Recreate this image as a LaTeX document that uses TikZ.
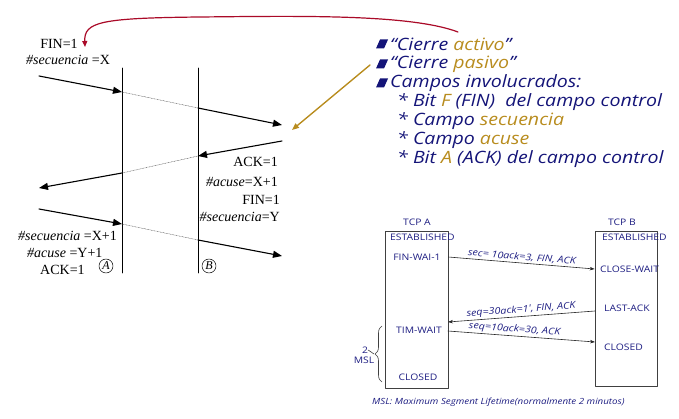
\documentclass[tikz,border=0pt]{standalone}
\usepackage{fontspec}
\setmainfont{Liberation Serif}
\newfontfamily\listfont[FakeStretch=1.15]{Open Sans}
\usetikzlibrary{arrows.meta}
\usetikzlibrary{decorations.pathreplacing}
\definecolor{navy}{RGB}{20,20,120}
\definecolor{gold}{RGB}{184,140,30}
\definecolor{darkred}{RGB}{170,10,40}
\definecolor{tcpblue}{RGB}{30,30,130}
\newcommand{\secu}{\textit{\#secuencia}}
\newcommand{\acu}{\textit{\#acuse}}

\begin{document}
\begin{tikzpicture}[line cap=round,line join=round,x=1pt,y=-1pt,
  msg/.style={line width=1.1pt,-{Triangle[length=9pt,width=7pt]}},
  tline/.style={line width=0.8pt},
  lost/.style={densely dotted,line width=0.5pt,gray!70!black},
  lbl/.style={font=\fontsize{14}{14}\selectfont,inner sep=0pt},
  lst/.style={font=\listfont\itshape\fontsize{17}{17}\selectfont,text=navy,inner sep=0pt,anchor=west},
  tcp/.style={font=\listfont\fontsize{9}{9}\selectfont,text=tcpblue,inner sep=0pt},
  tcpbox/.style={draw=gray!50!black,line width=0.7pt,inner sep=0pt},
  tcpmsg/.style={gray!30!black,line width=0.6pt,-{Stealth[length=5pt,width=3.5pt]}},
  tcplbl/.style={font=\listfont\itshape\fontsize{9.3}{9.3}\selectfont,text=tcpblue,inner sep=1.5pt,sloped,above}]
\useasboundingbox (0,0) rectangle (679,419);

%% left: the two lines and the segments
\draw[tline] (122,68) coordinate (Atop) -- (122,273) coordinate (Abot);
\draw[tline] (198,68) coordinate (Btop) -- (198,273) coordinate (Bbot);
\coordinate (s1) at (39,76);  \coordinate (a1) at (122,92);  \coordinate (b1) at (198,108); \coordinate (e1) at (282,125);
\coordinate (s2) at (282,141); \coordinate (b2) at (198,156); \coordinate (a2) at (122,173); \coordinate (e2) at (39,188);
\coordinate (s3) at (39,209);  \coordinate (a3) at (122,224); \coordinate (b3) at (198,240); \coordinate (e3) at (282,256);
\draw[msg] (s1) -- (a1); \draw[lost] (a1) -- (b1); \draw[msg] (b1) -- (e1);
\draw[msg] (s2) -- (b2); \draw[lost] (b2) -- (a2); \draw[msg] (a2) -- (e2);
\draw[msg] (s3) -- (a3); \draw[lost] (a3) -- (b3); \draw[msg] (b3) -- (e3);

\node[lbl] (fin1) at (59,44) {FIN=1};
\node[lbl,anchor=west] (seqx) at (26,60) {\secu\ =X};
\node[lbl,anchor=east] (ack1) at (278,162) {ACK=1};
\node[lbl,anchor=east] (acux) at (278,182) {\acu=X+1};
\node[lbl,anchor=east] (fin2) at (280,200) {FIN=1};
\node[lbl,anchor=east] (seqy) at (280,217) {\secu=Y};
\node[lbl,anchor=west] (seqx1) at (18,236) {\secu\ =X+1};
\node[lbl,anchor=west] (acuy) at (27,253) {\acu\ =Y+1};
\node[lbl,anchor=west] (ack2) at (40,270) {ACK=1};
\node[draw,circle,line width=0.5pt,inner sep=0pt,minimum size=14pt,font=\itshape\fontsize{12}{12}\selectfont] (cA) at (106,266) {A};
\node[draw,circle,line width=0.5pt,inner sep=0pt,minimum size=14pt,font=\itshape\fontsize{12}{12}\selectfont] (cB) at (209,266) {B};

%% right: list
\foreach \yy in {44,64,83}
  \fill[navy] (376,\yy+4.5) -- (384,\yy+4.5) -- (388,\yy-4.5) -- (380,\yy-4.5) -- cycle;
\node[lst] (l1) at (390,44) {“Cierre \textcolor{gold}{activo}”};
\node[lst] (l2) at (390,64) {“Cierre \textcolor{gold}{pasivo}”};
\node[lst] (l3) at (390,83) {Campos involucrados:};
\node[lst] (l4) at (397,102) {* Bit \textcolor{gold}{F} (FIN)\ \ del campo control};
\node[lst] (l5) at (397,121) {* Campo \textcolor{gold}{secuencia}};
\node[lst] (l6) at (397,140) {* Campo \textcolor{gold}{acuse}};
\node[lst] (l7) at (397,159) {* Bit \textcolor{gold}{A} (ACK) del campo control};

\coordinate (actsrc) at (458,32);
\coordinate (fintip) at (85,47);
\draw[darkred,line width=1.2pt,-{Triangle[length=6pt,width=5pt]}] (actsrc) .. controls (410,14) and (300,16) .. (200,17)
  .. controls (100,18) and (84,22) .. (fintip);
\coordinate (passrc) at (370,65);
\coordinate (pastip) at (292,130);
\draw[gold,line width=1.4pt,-{Triangle[length=7pt,width=5.5pt]}] (passrc) -- (pastip);

%% bottom right: TCP A / TCP B
\node[tcp] (tcpA) at (417,222) {TCP A};
\node[tcp] (tcpB) at (622,222) {TCP B};
\node[tcpbox,minimum width=63pt,minimum height=157pt] (boxA) at (416.5,309.5) {};
\node[tcpbox,minimum width=62pt,minimum height=155pt] (boxB) at (626,308.5) {};
\node[tcp,anchor=west] (estA) at (390,237) {ESTABLISHED};
\node[tcp,anchor=west] (estB) at (602,237) {ESTABLISHED};
\node[tcp] (fw) at (417,257) {FIN-WAI-1};
\node[tcp,anchor=west] (cw) at (600,269) {CLOSE-WAIT};
\node[tcp,anchor=west] (la) at (604,308) {LAST-ACK};
\node[tcp] (tw) at (419,330) {TIM-WAIT};
\node[tcp,anchor=west] (clB) at (604,347) {CLOSED};
\node[tcp] (clA) at (418,377) {CLOSED};

\coordinate (m1s) at (boxA.east |- fw);
\coordinate (m1e) at (boxB.west |- cw);
\coordinate (m2s) at (595,311);
\coordinate (m2e) at (448,322);
\coordinate (m3s) at (448,331);
\coordinate (m3e) at (595,342);
\draw[tcpmsg] (m1s) -- node[tcplbl] {sec= 10ack=3, FIN, ACK} (m1e);
\draw[tcpmsg] (m2s) -- node[tcplbl] {seq=30ack=1', FIN, ACK} (m2e);
\draw[tcpmsg] (m3s) -- node[tcplbl,pos=0.45] {seq=10ack=30, ACK} (m3e);

\draw[decorate,decoration={brace,amplitude=7pt},gray!50!black,line width=0.6pt] (382,382) -- (382,326) coordinate[midway,xshift=-8pt] (brtip);
\node[tcp] (two) at (365,350) {2};
\node[tcp] (msl) at (364,360) {MSL};
\draw[gray!50!black,line width=0.6pt] (two.east) -- (brtip);
\node[tcp,font=\listfont\itshape\fontsize{8.5}{8.5}\selectfont,anchor=west] (note) at (372,402) {MSL: Maximum Segment Lifetime(normalmente 2 minutos)};
\end{tikzpicture}
\end{document}
